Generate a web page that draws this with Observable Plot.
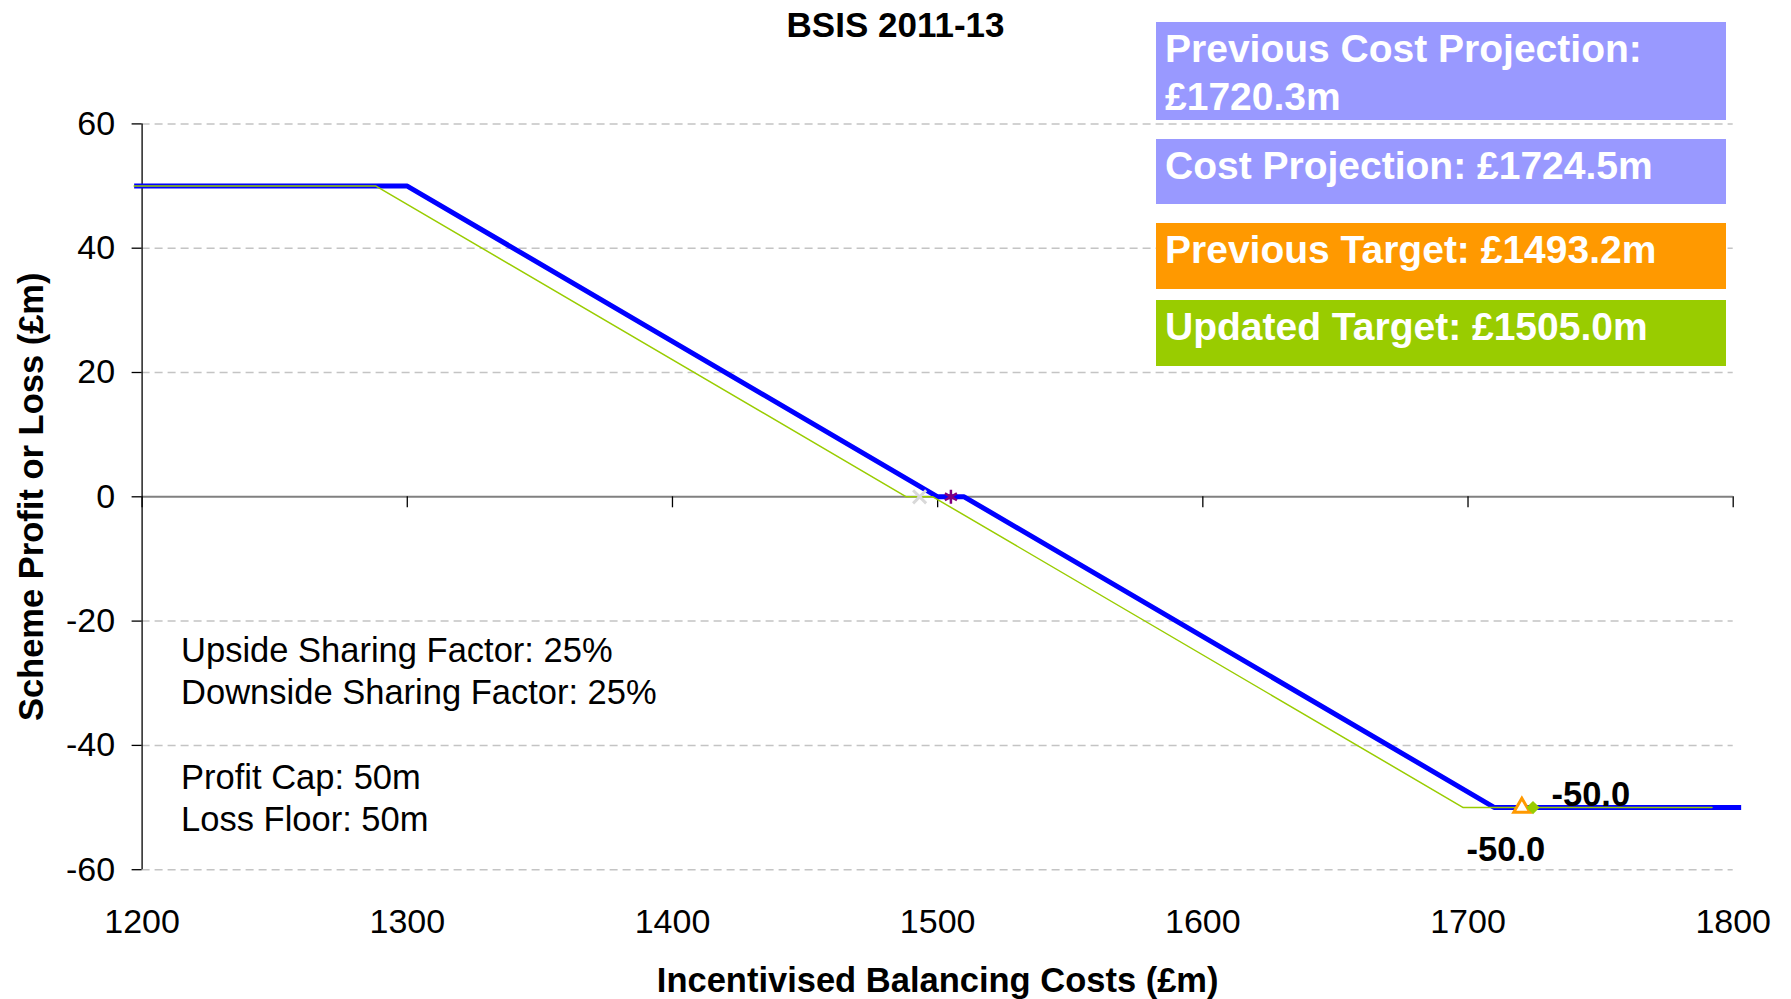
<!DOCTYPE html>
<html><head><meta charset="utf-8">
<script src="https://cdn.jsdelivr.net/npm/d3@7"></script>
<script src="https://cdn.jsdelivr.net/npm/@observablehq/plot@0.6"></script>
<style>
body{margin:0;background:#fff;font-family:"Liberation Sans",Arial,sans-serif;}
#wrap{position:relative;width:1791px;height:999px;overflow:hidden;background:#fff;}
#title{height:44px;line-height:50px;text-align:center;font-weight:bold;font-size:35px;color:#000;}
.box{position:absolute;left:1156px;width:570px;box-sizing:border-box;padding:3px 0 0 9px;color:#fff;font-weight:bold;font-size:39px;line-height:48px;}
#chart svg{display:block;}
</style></head><body>
<div id="wrap"><div id="title"></div><div id="chart"></div></div>
<script>
// ---- data ----
const chartTitle = "BSIS 2011-13";
const xTitle = "Incentivised Balancing Costs (£m)";
const yTitle = "Scheme Profit or Loss (£m)";
const xTicks = [1200, 1300, 1400, 1500, 1600, 1700, 1800];
const yTicks = [-60, -40, -20, 0, 20, 40, 60];
const gridTicks = [-60, -40, -20, 20, 40, 60];
const currentCost = [1197, 1300, 1500, 1510, 1710, 1803];
const currentProfit = [50, 50, 0, 0, -50, -50];
const previousCost = [1197, 1288.2, 1488.2, 1498.2, 1698.2, 1792];
const previousProfit = [50, 50, 0, 0, -50, -50];
const previousTarget = 1493.2;
const updatedTarget = 1505.0;
const previousProjection = 1720.3;
const costProjection = 1724.5;
const floorValue = -50;
const notes = ["Upside Sharing Factor: 25%", "Downside Sharing Factor: 25%", "", "Profit Cap: 50m", "Loss Floor: 50m"];
const legendLabels = [
  `Previous Cost Projection: £${previousProjection.toFixed(1)}m`,
  `Cost Projection: £${costProjection.toFixed(1)}m`,
  `Previous Target: £${previousTarget.toFixed(1)}m`,
  `Updated Target: £${updatedTarget.toFixed(1)}m`
];

// ---- layout / style ----
const legendColors = ["#9999ff", "#9999ff", "#ff9900", "#99cc00"];
const legendTops = [22, 139, 223, 300];
const legendHeights = [98, 65, 66, 66];

document.getElementById("title").textContent = chartTitle;
const wrap = document.getElementById("wrap");
legendLabels.forEach((t, i) => {
  const d = document.createElement("div");
  d.className = "box";
  d.style.top = legendTops[i] + "px";
  d.style.height = legendHeights[i] + "px";
  d.style.background = legendColors[i];
  d.textContent = t;
  wrap.appendChild(d);
});

const current = currentCost.map((c, i) => ({cost: c, profit: currentProfit[i]}));
const previous = previousCost.map((c, i) => ({cost: c, profit: previousProfit[i]}));
const font = "'Liberation Sans', Arial, sans-serif";

const chart = Plot.plot({
  width: 1791,
  height: 955,
  marginLeft: 141.6,
  marginRight: 58.3,
  marginTop: 79.4,
  marginBottom: 129.8,
  x: {domain: [1200, 1800]},
  y: {domain: [-60, 60]},
  style: {fontFamily: font, fontSize: "34px", color: "#000", background: "transparent", overflow: "visible"},
  marks: [
    Plot.gridY(gridTicks, {stroke: "#c4c4c4", strokeOpacity: 1, strokeWidth: 1.5, strokeDasharray: "8,5"}),
    Plot.ruleY([0], {stroke: "#808080", strokeWidth: 2}),
    Plot.ruleX(xTicks, {y1: 0, y2: 0, insetBottom: -11, stroke: "#000", strokeWidth: 1.3}),
    Plot.ruleX([xTicks[0]], {stroke: "#000", strokeWidth: 1.3}),
    Plot.axisY({ticks: yTicks, tickSize: 10, tickPadding: 17, tickFormat: d => `${d}`, fontSize: 34, label: null, strokeWidth: 1.3}),
    Plot.axisX({ticks: xTicks, tickSize: 0, tickPadding: 39, tickFormat: d => `${d}`, fontSize: 34, label: null}),
    Plot.text([yTitle], {text: d => d, frameAnchor: "left", textAnchor: "middle", lineAnchor: "middle", dx: -110.6, rotate: -90, fontWeight: "bold", fontSize: 34.5}),
    Plot.text([xTitle], {text: d => d, frameAnchor: "bottom", textAnchor: "middle", lineAnchor: "middle", dy: 111, fontWeight: "bold", fontSize: 34.5}),
    Plot.text([notes.join("\n")], {text: d => d, frameAnchor: "left", textAnchor: "start", dx: 39, dy: 236, lineHeight: 1.23, fontSize: 34.5}),
    Plot.line(current, {x: "cost", y: "profit", stroke: "#0000ff", strokeWidth: 5, strokeLinejoin: "miter", strokeLinecap: "butt"}),
    Plot.line(previous, {x: "cost", y: "profit", stroke: "#99cc00", strokeWidth: 1.5}),
    Plot.dot([previousTarget], {x: d => d, y: () => 0, symbol: "times", r: 6, stroke: "#d9d9d9", strokeWidth: 3}),
    Plot.dot([updatedTarget], {x: d => d, y: () => 0, symbol: "asterisk", r: 6.6, stroke: "#800080", strokeWidth: 2.5}),
    Plot.dot([previousProjection], {x: d => d, y: () => floorValue, symbol: "triangle", r: 6, stroke: "#ff9900", fill: "#fff", strokeWidth: 3}),
    Plot.dot([costProjection], {x: d => d, y: () => floorValue, symbol: "diamond2", r: 6, fill: "#99cc00", stroke: "none"}),
    Plot.text([previousProjection], {x: d => d, y: () => floorValue, text: () => floorValue.toFixed(1), dx: -16, dy: 42, fontWeight: "bold", fontSize: 34.5}),
    Plot.text([costProjection], {x: d => d, y: () => floorValue, text: () => floorValue.toFixed(1), textAnchor: "start", dx: 18.5, dy: -13, fontWeight: "bold", fontSize: 34.5})
  ]
});
document.getElementById("chart").appendChild(chart);
</script>
</body></html>
